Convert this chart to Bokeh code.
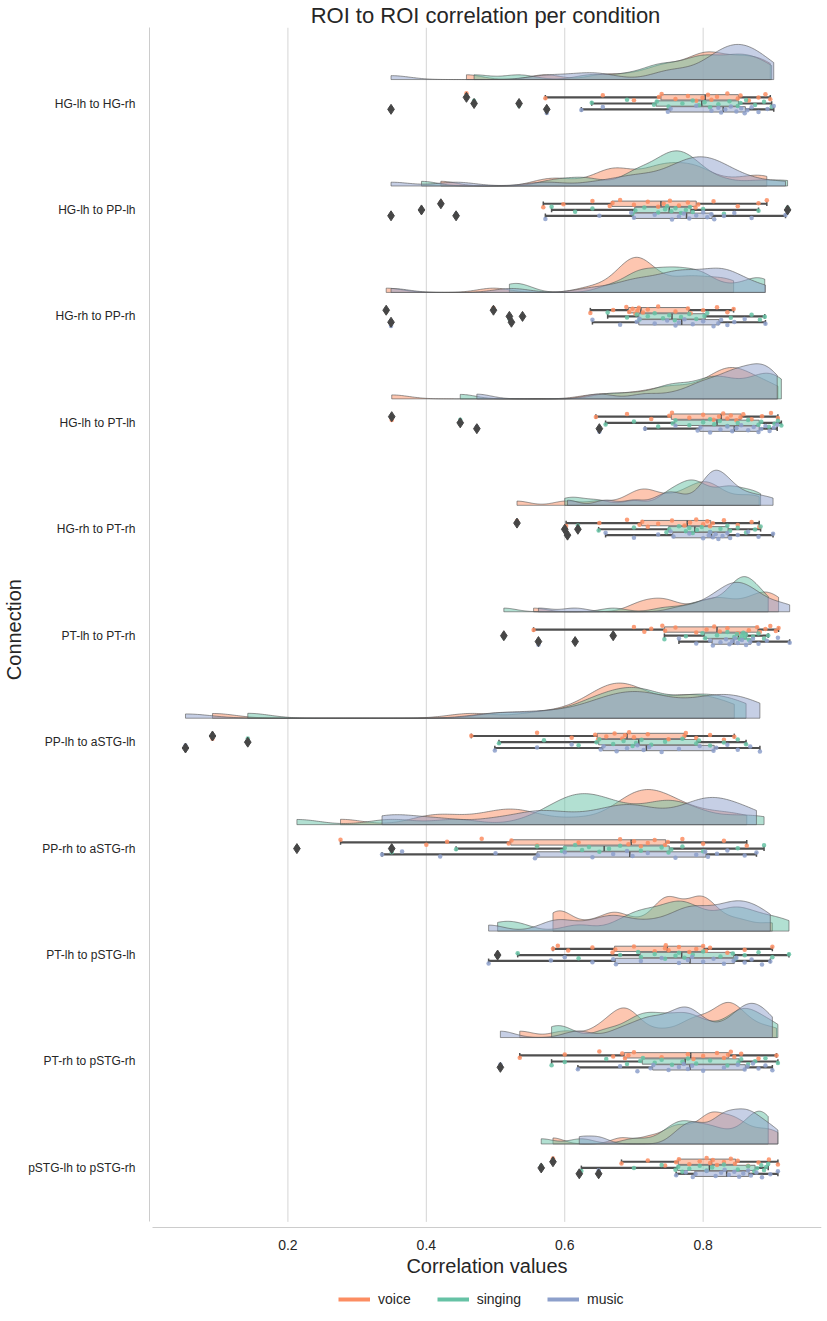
import numpy as np
from bokeh.plotting import figure
from bokeh.models import Range1d, FixedTicker, ColumnDataSource, Legend, LegendItem
from bokeh.embed import file_html
from bokeh.resources import INLINE

connections = ["HG-lh to HG-rh", "HG-lh to PP-lh", "HG-rh to PP-rh", "HG-lh to PT-lh",
               "HG-rh to PT-rh", "PT-lh to PT-rh", "PP-lh to aSTG-lh", "PP-rh to aSTG-rh",
               "PT-lh to pSTG-lh", "PT-rh to pSTG-rh", "pSTG-lh to pSTG-rh"]
conditions = ["voice", "singing", "music"]
colors = ["#fc8d62", "#66c2a5", "#8da0cb"]
x_ticks = [0.2, 0.4, 0.6, 0.8]

voice = [
    [0.458, 0.572, 0.655, 0.700, 0.736, 0.740, 0.760, 0.778, 0.790, 0.799, 0.807, 0.812, 0.820, 0.835, 0.850, 0.854, 0.866, 0.880, 0.890, 0.897],
    [0.421, 0.569, 0.598, 0.640, 0.665, 0.669, 0.680, 0.700, 0.720, 0.735, 0.743, 0.752, 0.765, 0.778, 0.789, 0.793, 0.815, 0.850, 0.880, 0.892],
    [0.342, 0.497, 0.637, 0.670, 0.689, 0.693, 0.698, 0.702, 0.705, 0.707, 0.713, 0.720, 0.735, 0.760, 0.778, 0.782, 0.800, 0.820, 0.835, 0.844],
    [0.350, 0.645, 0.690, 0.725, 0.751, 0.755, 0.780, 0.800, 0.815, 0.823, 0.829, 0.835, 0.840, 0.848, 0.854, 0.858, 0.870, 0.885, 0.898, 0.908],
    [0.531, 0.602, 0.650, 0.690, 0.708, 0.712, 0.720, 0.735, 0.755, 0.773, 0.781, 0.790, 0.800, 0.806, 0.810, 0.814, 0.830, 0.850, 0.870, 0.881],
    [0.555, 0.700, 0.715, 0.725, 0.741, 0.745, 0.760, 0.790, 0.805, 0.816, 0.824, 0.835, 0.850, 0.866, 0.878, 0.882, 0.890, 0.897, 0.905, 0.909],
    [0.091, 0.465, 0.560, 0.610, 0.644, 0.648, 0.660, 0.672, 0.683, 0.687, 0.693, 0.700, 0.720, 0.750, 0.773, 0.775, 0.790, 0.810, 0.830, 0.845],
    [0.276, 0.400, 0.430, 0.480, 0.519, 0.523, 0.560, 0.620, 0.680, 0.692, 0.700, 0.710, 0.720, 0.730, 0.745, 0.749, 0.770, 0.800, 0.830, 0.863],
    [0.583, 0.590, 0.605, 0.640, 0.669, 0.673, 0.700, 0.730, 0.745, 0.746, 0.750, 0.765, 0.780, 0.790, 0.800, 0.804, 0.810, 0.835, 0.860, 0.900],
    [0.535, 0.600, 0.650, 0.670, 0.683, 0.687, 0.692, 0.700, 0.740, 0.778, 0.786, 0.800, 0.820, 0.830, 0.836, 0.840, 0.845, 0.855, 0.880, 0.906],
    [0.583, 0.682, 0.720, 0.745, 0.761, 0.765, 0.780, 0.795, 0.805, 0.810, 0.814, 0.820, 0.830, 0.840, 0.846, 0.850, 0.865, 0.880, 0.895, 0.908],
]
singing = [
    [0.469, 0.534, 0.639, 0.690, 0.729, 0.733, 0.750, 0.770, 0.785, 0.794, 0.802, 0.810, 0.822, 0.838, 0.850, 0.854, 0.862, 0.875, 0.888, 0.899],
    [0.393, 0.581, 0.615, 0.640, 0.698, 0.702, 0.715, 0.735, 0.745, 0.748, 0.754, 0.760, 0.768, 0.775, 0.781, 0.785, 0.800, 0.830, 0.880, 0.922],
    [0.520, 0.539, 0.662, 0.690, 0.704, 0.708, 0.720, 0.730, 0.742, 0.751, 0.759, 0.768, 0.780, 0.790, 0.802, 0.806, 0.840, 0.870, 0.882, 0.889],
    [0.449, 0.659, 0.700, 0.735, 0.756, 0.760, 0.780, 0.800, 0.810, 0.816, 0.824, 0.835, 0.850, 0.865, 0.880, 0.884, 0.895, 0.903, 0.908, 0.913],
    [0.600, 0.619, 0.649, 0.700, 0.747, 0.751, 0.765, 0.775, 0.780, 0.785, 0.791, 0.798, 0.810, 0.825, 0.835, 0.839, 0.850, 0.862, 0.875, 0.883],
    [0.512, 0.670, 0.744, 0.775, 0.799, 0.803, 0.820, 0.835, 0.845, 0.849, 0.853, 0.856, 0.858, 0.860, 0.862, 0.866, 0.872, 0.880, 0.888, 0.894],
    [0.142, 0.505, 0.570, 0.620, 0.646, 0.650, 0.670, 0.685, 0.698, 0.703, 0.711, 0.725, 0.745, 0.770, 0.790, 0.794, 0.810, 0.830, 0.850, 0.862],
    [0.213, 0.350, 0.443, 0.560, 0.596, 0.600, 0.615, 0.625, 0.635, 0.650, 0.664, 0.680, 0.710, 0.740, 0.750, 0.754, 0.770, 0.800, 0.850, 0.888],
    [0.503, 0.532, 0.620, 0.680, 0.706, 0.710, 0.730, 0.745, 0.760, 0.765, 0.773, 0.785, 0.800, 0.825, 0.843, 0.847, 0.860, 0.880, 0.900, 0.924],
    [0.581, 0.600, 0.660, 0.690, 0.709, 0.713, 0.730, 0.740, 0.755, 0.770, 0.778, 0.790, 0.810, 0.835, 0.851, 0.855, 0.865, 0.875, 0.890, 0.908],
    [0.566, 0.624, 0.700, 0.740, 0.760, 0.764, 0.770, 0.780, 0.795, 0.805, 0.813, 0.830, 0.850, 0.865, 0.874, 0.878, 0.884, 0.888, 0.891, 0.894],
]
music = [
    [0.349, 0.574, 0.624, 0.655, 0.749, 0.753, 0.790, 0.812, 0.822, 0.826, 0.832, 0.840, 0.848, 0.855, 0.860, 0.864, 0.870, 0.880, 0.893, 0.902],
    [0.349, 0.443, 0.572, 0.650, 0.696, 0.700, 0.730, 0.755, 0.765, 0.772, 0.780, 0.790, 0.800, 0.806, 0.812, 0.816, 0.830, 0.845, 0.870, 0.919],
    [0.349, 0.523, 0.640, 0.680, 0.704, 0.708, 0.730, 0.748, 0.760, 0.765, 0.773, 0.785, 0.800, 0.815, 0.822, 0.826, 0.835, 0.845, 0.860, 0.890],
    [0.473, 0.650, 0.716, 0.760, 0.792, 0.796, 0.810, 0.825, 0.835, 0.842, 0.848, 0.855, 0.865, 0.873, 0.880, 0.884, 0.890, 0.896, 0.902, 0.907],
    [0.604, 0.659, 0.700, 0.735, 0.753, 0.757, 0.780, 0.800, 0.808, 0.810, 0.814, 0.818, 0.822, 0.828, 0.835, 0.839, 0.850, 0.865, 0.880, 0.901],
    [0.562, 0.615, 0.765, 0.790, 0.810, 0.814, 0.825, 0.833, 0.838, 0.842, 0.846, 0.850, 0.856, 0.862, 0.868, 0.872, 0.880, 0.892, 0.908, 0.925],
    [0.052, 0.499, 0.560, 0.610, 0.652, 0.656, 0.675, 0.690, 0.705, 0.714, 0.722, 0.740, 0.765, 0.795, 0.815, 0.819, 0.835, 0.850, 0.868, 0.882],
    [0.336, 0.365, 0.420, 0.500, 0.557, 0.561, 0.600, 0.640, 0.670, 0.690, 0.698, 0.720, 0.760, 0.790, 0.803, 0.807, 0.820, 0.835, 0.860, 0.877],
    [0.490, 0.580, 0.600, 0.640, 0.670, 0.674, 0.710, 0.740, 0.765, 0.778, 0.784, 0.800, 0.815, 0.830, 0.844, 0.848, 0.860, 0.870, 0.885, 0.897],
    [0.507, 0.619, 0.680, 0.705, 0.724, 0.728, 0.750, 0.765, 0.772, 0.778, 0.784, 0.800, 0.830, 0.850, 0.860, 0.864, 0.872, 0.880, 0.890, 0.900],
    [0.621, 0.649, 0.761, 0.775, 0.785, 0.789, 0.805, 0.818, 0.826, 0.831, 0.837, 0.845, 0.852, 0.858, 0.865, 0.869, 0.877, 0.885, 0.897, 0.908],
]
series = [voice, singing, music]

FONT = "Liberation Sans"
TXT = "#262626"
ROW_OFF = [-0.058, 0.0, 0.055]
BOX_H = 0.05
CLOUD_BASE = -0.225
CLOUD_MAX = 0.33
BW = 0.2
Y_TOP, Y_PLOT_BOTTOM, Y_FRAME_BOTTOM = -0.714, 10.507, 11.33
X_MIN, X_MAX = 0.0, 0.971

p = figure(frame_width=672, frame_height=1282, output_backend="svg", toolbar_location=None,
           x_range=Range1d(X_MIN, X_MAX), y_range=Range1d(Y_FRAME_BOTTOM, Y_TOP),
           min_border_left=0, min_border_right=4, min_border_top=0, min_border_bottom=0,
           title="ROI to ROI correlation per condition")
p.outline_line_color = None
p.background_fill_color = "white"
p.border_fill_color = "white"
p.title.align = "center"
p.title.text_font = FONT
p.title.text_font_size = "22px"
p.title.text_font_style = "normal"
p.title.text_color = TXT
p.title.standoff = 0

# vertical grid lines limited to the plotting area
p.xgrid.grid_line_color = None
p.ygrid.grid_line_color = None
p.segment(x0=x_ticks, y0=[Y_TOP] * len(x_ticks), x1=x_ticks, y1=[Y_PLOT_BOTTOM] * len(x_ticks),
          line_color="#d5d5d5", line_width=1)

# clouds (half violins, cut at data range)
def kde(vals):
    v = np.asarray(vals, dtype=float)
    h = BW * v.std(ddof=1)
    grid = np.linspace(v.min(), v.max(), 240)
    d = np.exp(-0.5 * ((grid[:, None] - v[None, :]) / h) ** 2).sum(1) / (len(v) * h * np.sqrt(2 * np.pi))
    return grid, d

cloud_xs = [[] for _ in conditions]
cloud_ys = [[] for _ in conditions]
for ci in range(len(connections)):
    dens = [kde(series[k][ci]) for k in range(3)]
    scale = CLOUD_MAX / max(d.max() for _, d in dens)
    base = ci + CLOUD_BASE
    for k, (g, d) in enumerate(dens):
        xs = np.concatenate([[g[0]], g, [g[-1]]])
        ys = np.concatenate([[base], base - d * scale, [base]])
        cloud_xs[k].append(xs.tolist())
        cloud_ys[k].append(ys.tolist())
for k in range(3):
    p.patches(xs=cloud_xs[k], ys=cloud_ys[k], fill_color=colors[k], fill_alpha=0.5,
              line_color="#555555", line_alpha=0.6, line_width=1)

# boxes
WCOL = "#4f4f4f"
fliers = []
for k in range(3):
    q1s, meds, q3s, lows, highs, ys = [], [], [], [], [], []
    ox, oy = [], []
    for ci in range(len(connections)):
        v = np.asarray(series[k][ci])
        q1, med, q3 = np.percentile(v, [25, 50, 75])
        iqr = q3 - q1
        inside = v[(v >= q1 - 1.5 * iqr) & (v <= q3 + 1.5 * iqr)]
        y = ci + ROW_OFF[k]
        q1s.append(q1); meds.append(med); q3s.append(q3)
        lows.append(inside.min()); highs.append(inside.max()); ys.append(y)
        out = v[(v < q1 - 1.5 * iqr) | (v > q3 + 1.5 * iqr)]
        ox += out.tolist(); oy += [y] * len(out)
    fliers.append((ox, oy))
    src = ColumnDataSource(dict(q1=q1s, med=meds, q3=q3s, lo=lows, hi=highs, y=ys,
                                ylo=[y - 0.022 for y in ys], yhi=[y + 0.022 for y in ys],
                                bylo=[y - BOX_H / 2 for y in ys], byhi=[y + BOX_H / 2 for y in ys]))
    p.segment(x0="lo", y0="y", x1="q1", y1="y", source=src, line_color=WCOL, line_width=2.2)
    p.segment(x0="q3", y0="y", x1="hi", y1="y", source=src, line_color=WCOL, line_width=2.2)
    p.segment(x0="lo", y0="ylo", x1="lo", y1="yhi", source=src, line_color=WCOL, line_width=1.5)
    p.segment(x0="hi", y0="ylo", x1="hi", y1="yhi", source=src, line_color=WCOL, line_width=1.5)
    p.hbar(y="y", left="q1", right="q3", height=BOX_H, source=src, fill_color=colors[k],
           fill_alpha=0.5, line_color="#7a7a7a", line_width=1)
    p.segment(x0="med", y0="bylo", x1="med", y1="byhi", source=src, line_color=WCOL, line_width=1.5)

# rain points
for k in range(3):
    px, py = [], []
    for ci in range(len(connections)):
        for i, val in enumerate(series[k][ci]):
            jit = (((i * 0.6180339 + ci * 0.31 + k * 0.17) % 1.0) - 0.5) * 0.075
            px.append(val)
            py.append(ci + ROW_OFF[k] + jit)
    p.scatter(x=px, y=py, size=4.5, fill_color=colors[k], line_color=None, fill_alpha=0.85)

for ox, oy in fliers:
    p.scatter(x=ox, y=oy, marker="diamond", size=10, fill_color="#464646", line_color="#464646")

# axes
p.xaxis.ticker = FixedTicker(ticks=x_ticks)
p.xaxis.axis_label = "Correlation values"
p.xaxis.fixed_location = Y_PLOT_BOTTOM + 0.05
p.xaxis.bounds = (0.004, X_MAX)
p.yaxis.ticker = FixedTicker(ticks=list(range(len(connections))))
p.yaxis.major_label_overrides = {i: c for i, c in enumerate(connections)}
# leading no-break spaces shift the centred label up to the middle of the plotting area
p.yaxis.axis_label = "\u00a0" * 14 + "Connection"
p.yaxis.bounds = (Y_TOP, Y_PLOT_BOTTOM)
for ax in (p.xaxis[0], p.yaxis[0]):
    ax.axis_line_color = "#cccccc"
    ax.major_tick_line_color = None
    ax.minor_tick_line_color = None
    ax.major_label_text_font = FONT
    ax.major_label_text_color = TXT
    ax.axis_label_text_font = FONT
    ax.axis_label_text_color = TXT
    ax.axis_label_text_font_style = "normal"
    ax.axis_label_text_font_size = "20px"
p.xaxis.major_label_text_font_size = "14px"
p.yaxis.major_label_text_font_size = "12px"
p.xaxis.major_label_standoff = 7
p.xaxis.axis_label_standoff = 1
p.yaxis.major_label_standoff = 8
p.yaxis.axis_label_standoff = 0

# legend (inside the extended frame, below the axis label)
items = []
for k, name in enumerate(conditions):
    r = p.line(x=[np.nan, np.nan], y=[np.nan, np.nan], line_color=colors[k], line_width=4)
    items.append(LegendItem(label=name, renderers=[r]))
legend = Legend(items=items, orientation="horizontal", location=(189, 2),
                label_text_font=FONT, label_text_font_size="14px", label_text_color=TXT,
                glyph_width=32, glyph_height=14, label_standoff=8, spacing=26,
                border_line_color=None, background_fill_alpha=0, margin=0, padding=4,
                label_height=14)
p.add_layout(legend)

open("out.html", "w").write(file_html(p, INLINE))
